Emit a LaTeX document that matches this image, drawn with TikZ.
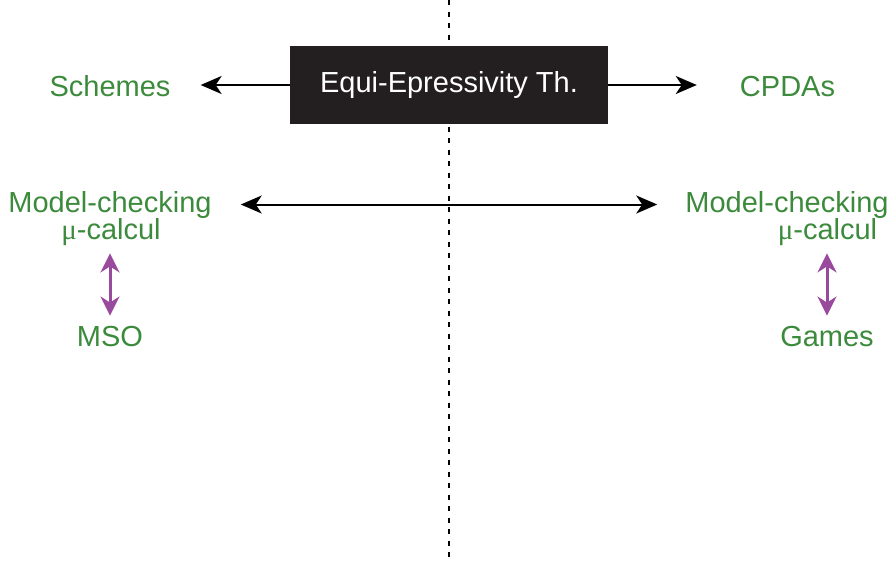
\documentclass[tikz,border=0pt]{standalone}
\usepackage{fontspec}
\setmainfont{Liberation Sans}
\newfontfamily\mufont{Liberation Serif}
\usetikzlibrary{arrows.meta}
\definecolor{lblgreen}{HTML}{3C8A3C}
\definecolor{lblpurple}{HTML}{9A4A9C}
\definecolor{boxblack}{HTML}{231F20}
\tikzset{
  lbl/.style={text=lblgreen, inner sep=0pt, anchor=base, font=\fontsize{29}{27}\selectfont},
  thbox/.style={fill=boxblack, text=white, minimum width=318pt, minimum height=78pt, inner sep=0pt, font=\fontsize{29}{27}\selectfont},
  blacktip/.tip={Stealth[length=21pt,width=18pt,inset=6pt]},
  purpletip/.tip={Stealth[length=19pt,width=19pt,inset=6pt]},
  blackarr/.style={line width=2pt, -blacktip},
  blackdbl/.style={line width=2pt, blacktip-blacktip},
  purpledbl/.style={line width=3pt, draw=lblpurple, purpletip-purpletip},
  divider/.style={line width=2pt, dash pattern=on 5pt off 6.5pt}
}
\begin{document}
\begin{tikzpicture}[x=1pt,y=-1pt]
\useasboundingbox (0,0) rectangle (893,563);
\coordinate (dtop) at (449,0);
\coordinate (dbot) at (449,563);
\draw[divider] (dtop) -- (dbot);
\node[thbox] (box) at (449,85) {Equi-Epressivity Th.};
\node[lbl] (schemes) at (110,96) {Schemes};
\node[lbl] (cpdas) at (787.5,96) {CPDAs};
\node[lbl] (mcl1) at (110,212) {Model-checking};
\node[lbl] (mcl2) at (111,239) {{\mufont μ}-calcul};
\node[lbl] (mcr1) at (787,212) {Model-checking};
\node[lbl] (mcr2) at (827.5,239) {{\mufont μ}-calcul};
\node[lbl] (mso) at (110,346) {MSO};
\node[lbl] (games) at (827,346) {Games};
\draw[blackarr, shorten >=30pt] (box.west) -- (box.west -| schemes.east);
\draw[blackarr, shorten >=43pt] (box.east) -- (box.east -| cpdas.west);
\draw[blackdbl, shorten <=29pt, shorten >=28pt] (mcl1.east) -- (mcl1.east -| mcr1.west);
\draw[purpledbl, shorten <=8pt, shorten >=10pt] (mcl2.south -| mso.north) -- (mso.north);
\draw[purpledbl, shorten <=8pt, shorten >=10pt] (mcr2.south -| games.north) -- (games.north);
\end{tikzpicture}
\end{document}
